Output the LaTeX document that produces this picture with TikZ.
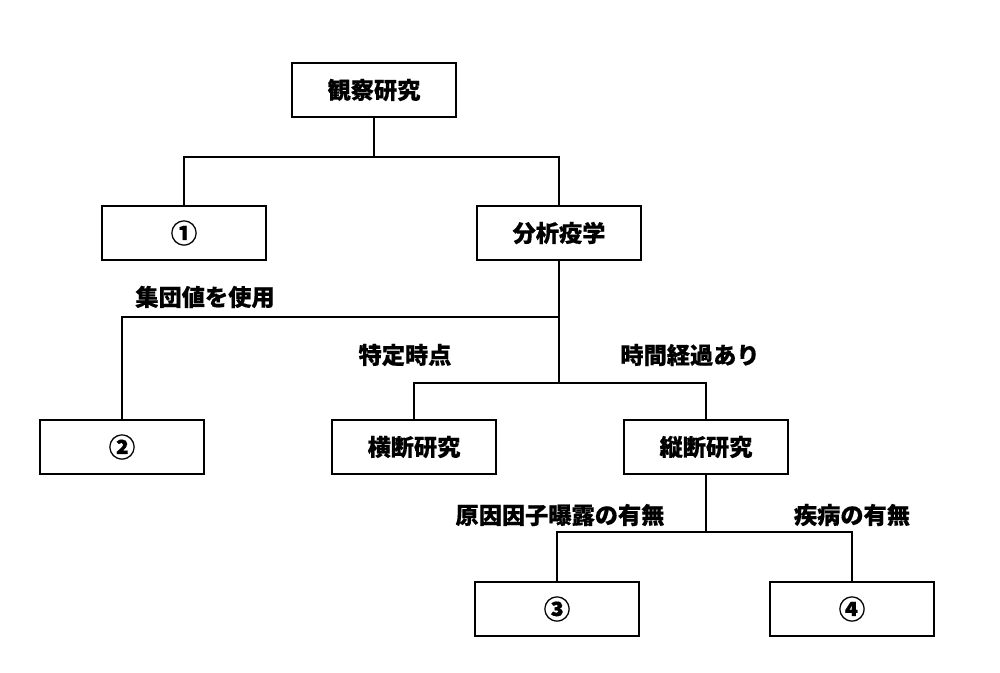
\documentclass[tikz,border=0pt]{standalone}
\usepackage{fontspec}
\setmainfont{Noto Sans CJK JP}[FakeBold=0.4]
\begin{document}
\begin{tikzpicture}[x=0.01cm, y=-0.01cm, line width=0.7pt]
\tikzset{box/.style={draw, minimum width=1.64cm, minimum height=0.54cm, inner sep=0pt, font=\fontsize{6.6}{8}\selectfont\bfseries},
  lab/.style={inner sep=0pt, font=\fontsize{6.6}{8}\selectfont\bfseries},
  num/.style={box, font=\fontsize{7.6}{9}\selectfont\bfseries}}
\useasboundingbox (0,0) rectangle (1000,672);
\node[box](k0) at (374,90) {観察研究};
\node[num](k1) at (184,233) {①};
\node[box](k2) at (559,233) {分析疫学};
\node[num](k3) at (122,447) {②};
\node[box](k4) at (414,447) {横断研究};
\node[box](k5) at (706,447) {縦断研究};
\node[num](k6) at (557,609) {③};
\node[num](k7) at (852,609) {④};
%
\coordinate (j0) at (374,157);
\coordinate (j1) at (559,317);
\coordinate (j2) at (559,383);
\coordinate (j3) at (706,532);
%
\draw (k0.south) -- (j0);
\draw (j0) -| (k1.north);
\draw (j0) -| (k2.north);
\draw (k2.south) -- (j2);
\draw (j1) -| (k3.north);
\draw (j2) -| (k4.north);
\draw (j2) -| (k5.north);
\draw (k5.south) -- (j3);
\draw (j3) -| (k6.north);
\draw (j3) -| (k7.north);
%
\node[lab] at (205,297) {集団値を使用};
\node[lab] at (405,355) {特定時点};
\node[lab] at (690,355) {時間経過あり};
\node[lab] at (560,515) {原因因子曝露の有無};
\node[lab] at (852,515) {疾病の有無};
\end{tikzpicture}
\end{document}
